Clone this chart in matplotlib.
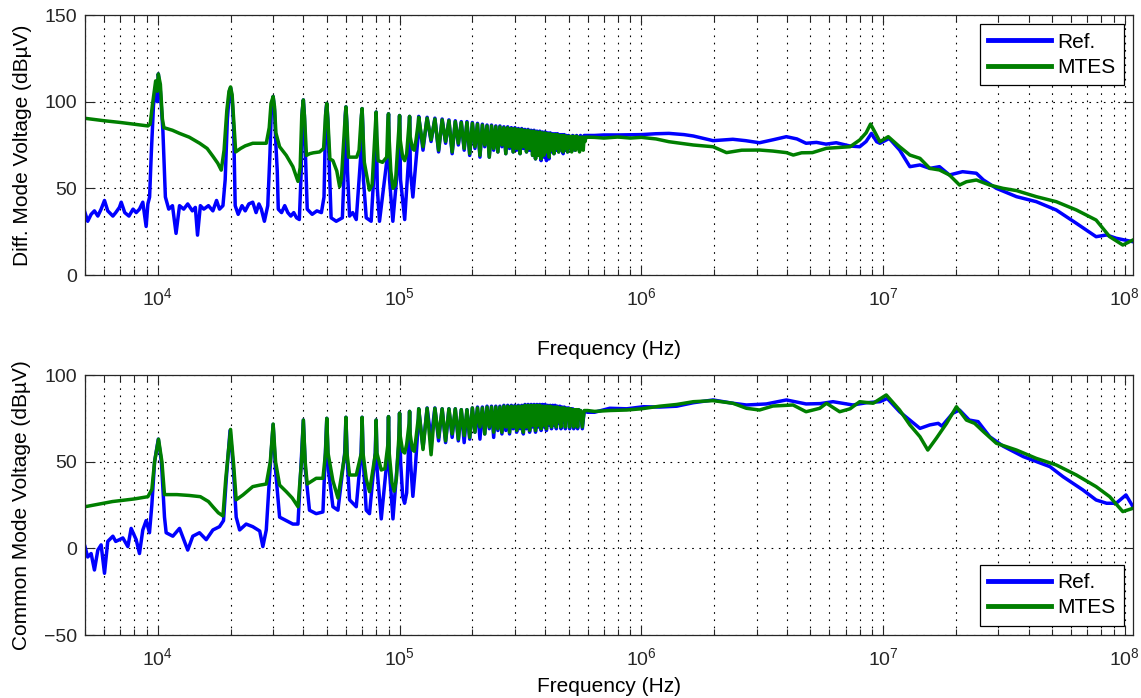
import numpy as np
import matplotlib
matplotlib.use("Agg")
import matplotlib.pyplot as plt
from matplotlib.ticker import LogLocator, NullFormatter

plt.rcParams['font.family'] = ['Liberation Sans', 'DejaVu Sans']
plt.rcParams['mathtext.fontset'] = 'custom'
plt.rcParams['mathtext.rm'] = 'Liberation Sans'
plt.rcParams['mathtext.it'] = 'Liberation Sans:italic'
plt.rcParams['mathtext.bf'] = 'Liberation Sans:bold'

# ---------------- data: (frequency in kHz, level in dBuV) ----------------
# Differential mode, measured reference
dm_ref_low = [(5.0,36),(5.13,31),(5.3,35),(5.47,37),(5.65,34),(5.83,38),(6.02,43),(6.21,37),(6.52,34),(6.7,36),
    (6.94,39),(7.06,42),(7.3,36),(7.6,34),(7.9,38),(8.14,36),(8.4,38),(8.67,42),(8.95,28),(9.1,41),(9.25,45),
    (9.4,70),(9.6,98),(9.85,111),(9.95,100),(10.05,116),(10.25,106),(10.5,83),(10.75,45),(11.1,38),(11.5,40),
    (11.9,24),(12.3,40),(12.8,38),(13.3,41),(13.9,37),(14.3,39),(14.6,23),(15.0,40),(15.5,38),(16.2,40),(16.9,37),
    (17.5,43),(18.0,38),(18.6,40),(19.0,55),(19.4,90),(19.8,106),(20.0,108),(20.3,102),(20.6,85),(20.9,40),
    (21.5,35),(22.3,40),(23.0,37),(23.8,41),(24.7,42),(25.5,36),(26.2,41),(26.8,38),(27.6,31),(28.5,40),
    (29.1,70),(29.5,96),(30.0,103),(30.4,95),(30.8,75),(31.2,60),(31.5,38),(32.5,36),(33.5,40),(34.5,36),
    (35.5,34),(36.5,36),(37.5,33),(38.5,32),(39.2,60),(39.6,95),(40.0,101),(40.4,92),(40.8,70),(41.5,38),
    (43.5,35),(45.5,37),(47.5,36),(48.7,45),(49.5,94),(50.0,99),(50.5,90),(51.0,70),(52.1,33),(54.7,31),
    (58.0,33),(59.2,65),(59.6,92),(60.0,97),(60.5,88),(60.9,60),(62.1,34),(64.0,36),(66.2,32),(69.2,70),
    (69.6,92),(70.0,96),(70.5,85),(70.9,55),(72.8,33),(76.3,31),(79.2,70),(80.0,94),(80.9,50),(82.6,31),
    (89.3,70),(90.0,93),(90.9,55),(93.8,31),(99.3,70),(100,92),(100.9,55),(105,32),(109.3,70),(110,91.5),
    (110.9,60),(113.5,45),(119.3,80)]
dm_ref_band = [(120,91.5),(125,72),(130,91),(135,77),(140,90.5),(145,71),(150,90),(155,76),(160,89.5),(165,70),
    (170,89),(175,75),(180,88.5),(185,72),(190,88.5),(195,69),(200,88),(205,73),(210,87.5),(215,68),(220,87),
    (225,74),(230,86.5),(235,68),(240,86.5),(245,72),(250,86),(255,71),(260,86),(265,74),(270,85.5),(275,70),
    (280,85.5),(285,73),(290,85),(295,71),(300,85),(305,72),(310,84.5),(315,70),(320,84.5),(325,73),(330,84),
    (335,71),(340,84),(345,72),(350,83.5),(355,69),(360,83.5),(365,67),(370,83),(375,69),(380,83),(385,66),
    (390,82.5),(395,68),(400,82.5),(405,66),(410,82),(415,67),(420,82),(425,71),(430,81.5),(435,70),(440,81.5),
    (445,72),(450,81.5),(455,71),(460,81),(465,73),(470,81),(475,70),(480,81),(485,72),(490,80.5),(495,71),
    (500,80.5),(510,73),(520,80.5),(530,72),(540,80.5),(550,75),(560,80.5),(570,78),(580,80.5),(600,80.5)]
dm_ref_high = [(640,80.5),(700,80.8),(800,80.8),(1000,81),(1150,81.5),(1300,81.7),(1500,81),(1640,80.2),
    (1980,77.5),(2390,78.3),(2700,77.5),(3080,76.3),(3500,78),(3980,79.8),(4400,78.5),(4800,76),(5300,76.5),
    (5800,75.5),(6400,76.3),(7300,74.4),(8000,74),(8500,77),(8950,81.7),(9400,76.9),(9700,76),(10600,78.8),
    (11700,72.1),(12900,62.5),(14200,63.5),(15600,61.5),(17100,62.5),(18800,57.7),(21300,59.6),(24300,58.7),
    (26000,54.8),(29400,50),(35600,45.2),(43000,42.3),(52000,37.5),(63000,29.8),(76000,22.1),(84000,23.1),
    (92000,21.2),(108000,19.2)]

# Differential mode, MTES model
dm_mtes_low = [(5.0,90.4),(6.0,89),(7.0,88),(8.0,87),(9.1,86),(9.3,87),(9.5,98),(9.8,112),(9.95,106),
    (10.05,116),(10.25,110),(10.45,90),(10.6,85),(11.5,83.5),(12.3,81.7),(13.5,79.5),(14.9,76),(16.0,73),
    (16.9,68.5),(17.7,64.5),(18.3,60.5),(18.8,72),(19.3,95),(19.7,106),(20.0,108.5),(20.3,104),(20.6,90),
    (21.0,71),(22.0,73),(23.0,74.5),(24.7,76),(26.5,76),(28.1,76),(28.9,85),(29.4,99),(30.0,103),(30.4,97),
    (30.8,82),(31.9,74),(34.0,69),(36.2,62.5),(38.0,54),(38.8,62),(39.4,92),(40.0,101),(40.5,90),(41.2,69),
    (42.5,70),(44.0,70.5),(46.7,71),(48.5,73),(49.4,92),(50.0,99),(50.6,88),(51.5,67),(53.0,66),(55.0,60),
    (56.5,51),(57.5,56),(59.2,85),(60.0,97),(60.7,85),(61.5,68),(64.0,68),(66.5,68),(68.0,72),(69.3,90),
    (70.0,96),(70.6,82),(71.5,65),(73.0,58),(75.0,49),(77.0,52),(79.4,85),(80.0,94),(80.6,80),(81.5,66),
    (85.0,65),(88.5,68),(89.4,88),(90.0,93),(90.6,78),(92.0,60),(94.0,50),(96.0,52),(99.4,85),(100,92),
    (100.6,78),(103,68),(105,66),(107,70),(109.5,88),(110,91.5),(110.6,80),(113,73),(115,72),(117,78),(119.5,88)]
dm_mtes_band = [(120,91),(125,74),(130,90.5),(135,78),(140,90),(145,72),(150,89.5),(155,77),(160,89),(165,71),
    (170,88.5),(175,76),(180,88),(185,73),(190,88),(195,70),(200,87.5),(205,74),(210,87),(215,69),(220,86.5),
    (225,75),(230,86),(235,68),(240,86),(245,73),(250,85.5),(255,71),(260,85.5),(265,75),(270,85),(275,70),
    (280,85),(285,74),(290,84.5),(295,71),(300,84.5),(305,73),(310,84),(315,70),(320,84),(325,74),(330,83.5),
    (335,71),(340,83.5),(345,73),(350,83),(355,69),(360,83),(365,67),(370,82.5),(375,69),(380,82.5),(385,67),
    (390,82),(395,69),(400,82),(405,71),(410,81.5),(415,68),(420,81.5),(425,72),(430,81),(435,70),(440,81),
    (445,73),(450,81),(455,71),(460,80.5),(465,74),(470,80.5),(475,71),(480,80.5),(485,73),(490,80),(495,71),
    (500,80),(505,74),(510,80),(515,71),(520,80),(525,74),(530,80),(535,72),(540,80),(545,75),(550,79.5),
    (555,71),(560,79.5),(565,76),(570,79.5),(575,72),(580,79.5),(585,77),(590,79.5),(600,79.5)]
dm_mtes_high = [(640,79.4),(700,79),(800,79.6),(900,79),(1000,79.4),(1150,78.5),(1300,76.9),(1450,76),
    (1640,75),(1980,74),(2250,70.6),(2600,72),(3080,72.1),(3500,71.5),(3980,70.6),(4250,69.2),(4600,70.5),
    (5100,70.6),(5830,73.1),(6400,73.5),(7300,74),(8000,77.9),(8500,82),(8870,87.1),(9200,83),(9700,76.9),
    (10500,79.8),(11700,74),(12900,69.2),(14200,67.3),(15600,61.5),(17100,60.6),(18800,57.7),(20700,51.9),
    (22100,53.8),(24300,54.8),(27600,51.9),(31300,50),(35600,48.7),(43000,45.2),(52000,42.3),(63000,37.5),
    (76000,31.7),(86500,22.1),(98000,17.3),(108000,20.2)]

# Common mode, measured reference
cm_ref_low = [(5.0,1),(5.13,-5),(5.3,-3),(5.47,-12.5),(5.65,-1),(5.83,2),(6.02,-14.4),(6.21,4),(6.52,7),(6.7,4),
    (6.94,5),(7.17,6),(7.52,1),(7.76,11.5),(8.14,5),(8.4,-3),(8.67,10.6),(8.95,16),(9.24,9),(9.45,25),(9.7,50),
    (10.05,63),(10.35,50),(10.66,18),(10.83,9),(11.54,7),(12.3,11.5),(13.3,-1),(13.96,7),(14.88,9),(15.86,5),
    (16.9,10.6),(18.0,12.5),(18.7,16),(19.2,40),(19.9,68),(20.5,48),(21.1,18),(21.8,10.6),(23.2,14),(24.7,12.5),
    (26.4,10),(27.2,1),(28.1,10.6),(29.1,45),(30.0,71.5),(30.7,45),(31.9,18),(34.0,16),(36.2,14),(38.0,14),
    (39.2,50),(40,74),(40.8,45),(42.4,22),(45.2,20),(48.2,21),(49.3,55),(50,75),(50.8,45),(53,24),(55.6,22),
    (59.3,55),(60,75.6),(60.8,50),(62.1,28),(66.2,24),(69.3,55),(70,75.6),(70.8,50),(72.8,22),(75.1,20),
    (79.3,55),(80,74),(80.8,45),(84,17),(89.3,55),(90,76),(90.8,45),(93.9,17),(99.3,60)]
cm_ref_band = [(100,78),(101,50),(103,30),(104.9,26),(107,32),(109.5,65),(110,79),(111,50),(113.5,30),(116,45),
    (119.5,72),(120,80.5),(125,58),(130,81),(135,63),(140,81),(145,62),(150,80.5),(155,61),(160,80.5),(165,64),
    (170,80.5),(175,62),(180,80),(185,61),(190,80),(195,63),(200,81),(205,67),(210,81.5),(215,63),(220,81.5),
    (225,66),(230,82),(235,69),(240,82),(245,64),(250,82),(255,68),(260,82),(265,66),(270,82.5),(275,68),
    (280,82.5),(285,66),(290,82.5),(295,69),(300,82.5),(305,67),(310,82.5),(315,69),(320,82.5),(325,66),
    (330,83),(335,69),(340,83),(345,67),(350,83),(355,70),(360,83),(365,67),(370,83),(375,70),(380,83),
    (385,68),(390,83),(395,70),(400,83),(405,68),(410,82.5),(415,71),(420,82.5),(425,69),(430,82.5),(435,71),
    (440,82.5),(445,69),(450,82),(455,72),(460,82),(465,69),(470,81.5),(475,73),(480,81.5),(485,69),(490,81),
    (495,74),(500,81),(505,69),(510,80.5),(515,75),(520,80.5),(525,69),(530,80),(535,76),(540,80),(545,69),
    (550,80),(555,76),(560,79.5),(570,69),(580,79),(600,78.5)]
cm_ref_high = [(640,78.5),(740,80.8),(870,80.5),(1020,81.7),(1190,81.5),(1400,82),(1640,84),(1980,85.6),
    (2390,83.7),(2720,82.7),(3290,83.3),(3980,85.6),(4800,83.3),(5500,83.5),(6200,84.6),(7500,82.7),(8530,84),
    (9700,84.6),(10400,86.5),(11700,78.8),(12900,74),(14200,69.2),(15600,71.2),(16900,72.1),(17500,70.5),
    (19400,77.9),(20700,79.8),(22700,74),(24700,73.1),(27600,64.4),(31300,59),(38000,52.9),(49000,47.1),
    (55500,41.3),(67000,33.7),(76000,27.9),(84000,26),(92000,26),(101000,30.8),(108000,24)]

# Common mode, MTES model
cm_mtes_low = [(5.0,24),(6.5,27),(8.0,28.5),(9.1,29.8),(9.45,34),(9.7,50),(10.07,63),(10.4,50),(10.66,31),
    (12.0,31),(13.5,30.5),(15.0,29.8),(16.2,27),(16.9,24),(17.8,20.5),(18.6,18.7),(19.1,40),(20,68.6),(20.6,48),
    (21.1,28),(22.5,30.8),(24.7,35.6),(26.5,36.5),(28.1,37.1),(29.2,50),(30,71.7),(30.7,50),(31.9,36.5),
    (34.0,32.7),(36.0,29),(38.0,24),(39.3,50),(40,74),(40.7,50),(41.5,37.1),(45.2,40.4),(48.2,40.4),(49.4,55),
    (50,75),(50.6,55),(53,39),(55.6,29),(59.5,55),(60,75.6),(60.6,55),(62.1,42.3),(66.2,42.3),(69.5,55),
    (70,75.6),(70.6,55),(72.8,40),(75.1,32.7),(79.5,55),(80,74),(80.6,55),(84,45.2),(87,46),(89.5,60),(90,76),
    (90.6,55),(93,38),(95,33),(97,40),(99.4,65)]
cm_mtes_band = [(100,78),(100.6,65),(103,56),(105,55),(107,60),(109.5,72),(110,79),(110.6,66),(113,57),
    (115,56),(117,64),(119.5,75),(120,80.5),(125,57),(130,80.8),(135,54),(140,80.8),(145,64),(150,80.5),
    (155,62),(160,80.5),(165,66),(170,80.5),(175,63),(180,80),(185,65),(190,80),(195,64),(200,81),(205,67),
    (210,81),(215,70),(220,81),(225,66),(230,81.5),(235,70),(240,81.5),(245,67),(250,81.5),(255,69),(260,81.5),
    (265,67),(270,82),(275,70),(280,82),(285,67),(290,82),(295,70),(300,82),(305,68),(310,82),(315,70),
    (320,82),(325,67),(330,82.5),(335,70),(340,82.5),(345,68),(350,82.5),(355,71),(360,82.5),(365,68),
    (370,82.5),(375,71),(380,82.5),(385,69),(390,82),(395,71),(400,82),(405,69),(410,82),(415,72),(420,82),
    (425,70),(430,81.5),(435,72),(440,81.5),(445,70),(450,81.5),(455,73),(460,81),(465,70),(470,81),(475,74),
    (480,81),(485,70),(490,80.5),(495,75),(500,80.5),(505,70),(510,80.5),(515,76),(520,80),(525,70),(530,80),
    (535,77),(540,80),(545,70),(550,80),(555,77),(560,79.5),(570,70),(580,79.5),(600,79.5)]
cm_mtes_high = [(640,79),(740,79.5),(870,79.8),(1000,80.5),(1190,82),(1400,83),(1640,84.6),(1980,85.2),
    (2390,83.7),(2720,80.8),(3080,79.8),(3500,82.1),(4240,82.7),(4800,78.8),(5470,80.8),(5830,83.7),
    (6610,78.8),(7300,80.5),(8000,84.6),(9100,83.7),(10300,88.5),(11700,79.8),(12900,71.2),(14200,64.4),
    (15300,56.7),(16600,63.5),(18300,72.1),(20100,81.7),(22100,74),(23900,72.1),(26000,67.3),(29400,60.6),
    (35600,56.7),(43000,51.9),(52000,48.1),(63000,42.3),(76000,35.6),(86500,29.8),(98000,21.2),(108000,23.1)]

series_labels = ['Ref.', 'MTES']
series_colors = ['#0000ff', '#007f00']
x_label = 'Frequency (Hz)'
y_labels = ['Diff. Mode Voltage (dB\u00b5V)', 'Common Mode Voltage (dB\u00b5V)']
y_limits = [(0, 150), (-50, 100)]
y_ticks = [[0, 50, 100, 150], [-50, 0, 50, 100]]


def to_xy(*segments):
    arr = np.array([p for seg in segments for p in seg], dtype=float)
    return arr[:, 0] * 1e3, arr[:, 1]


panels = [
    (to_xy(dm_ref_low, dm_ref_band, dm_ref_high), to_xy(dm_mtes_low, dm_mtes_band, dm_mtes_high)),
    (to_xy(cm_ref_low, cm_ref_band, cm_ref_high), to_xy(cm_mtes_low, cm_mtes_band, cm_mtes_high)),
]

W, H = 1141, 698
fig = plt.figure(figsize=(W / 100, H / 100), dpi=100)
axes = [fig.add_axes([85 / W, 1 - 275 / H, 1048 / W, 260 / H]),
        fig.add_axes([85 / W, 1 - 635 / H, 1048 / W, 260 / H])]

grid_style = dict(color='k', linestyle=(0, (1.5, 5)), linewidth=0.8)
legend_locs = ['upper right', 'lower right']
xlabel_y = [-0.25, -0.16]

for i, ax in enumerate(axes):
    for (fx, fy), lab, col in zip(panels[i], series_labels, series_colors):
        ax.plot(fx, fy, color=col, lw=2.5, label=lab, solid_joinstyle='round')
    ax.set_xscale('log')
    ax.set_xlim(5e3, 1.08e8)
    ax.set_ylim(*y_limits[i])
    ax.set_yticks(y_ticks[i])
    ax.xaxis.set_major_locator(LogLocator(base=10, numticks=20))
    ax.xaxis.set_minor_locator(LogLocator(base=10, subs=np.arange(2, 10), numticks=20))
    ax.xaxis.set_minor_formatter(NullFormatter())
    ax.grid(True, which='major', axis='both', **grid_style)
    ax.grid(True, which='minor', axis='x', **grid_style)
    ax.tick_params(which='both', direction='in', top=True, right=True, labelsize=14, colors='#262626')
    ax.tick_params(which='major', length=7, width=0.8)
    ax.tick_params(axis='x', which='major', pad=9)
    ax.tick_params(axis='y', which='major', pad=6)
    ax.tick_params(which='minor', length=4, width=0.8)
    for sp in ax.spines.values():
        sp.set_color('#262626')
        sp.set_linewidth(0.9)
    ax.set_xlabel(x_label, fontsize=15, va='top')
    ax.xaxis.set_label_coords(0.5, xlabel_y[i])
    ax.set_ylabel(y_labels[i], fontsize=15, labelpad=9)
    leg = ax.legend(loc=legend_locs[i], fontsize=15, frameon=True, fancybox=False, framealpha=1,
                    edgecolor='k', handlelength=3.0, handletextpad=0.3, labelspacing=0.3,
                    borderpad=0.4, borderaxespad=0.45)
    leg.get_frame().set_linewidth(0.9)
    for ln in leg.get_lines():
        ln.set_linewidth(3.5)

fig.savefig('out.png', dpi=100)
